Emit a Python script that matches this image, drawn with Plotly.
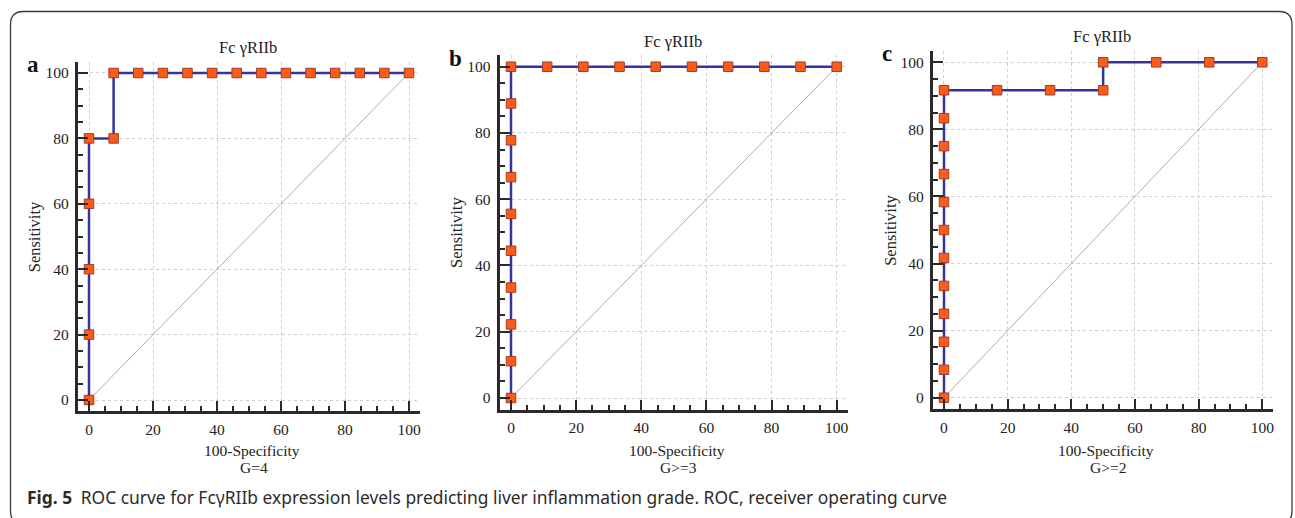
import plotly.graph_objects as go

# ---------------- data ----------------
panel_letters = ["a", "b", "c"]
panel_titles = ["Fc γRIIb", "Fc γRIIb", "Fc γRIIb"]
group_labels = ["G=4", "G>=3", "G>=2"]
x_title = "100-Specificity"
y_title = "Sensitivity"

a_fpr = [0, 0, 0, 0, 0, 7.69, 7.69, 15.38, 23.08, 30.77, 38.46, 46.15, 53.85,
         61.54, 69.23, 76.92, 84.62, 92.31, 100]
a_sens = [0, 20, 40, 60, 80, 80, 100, 100, 100, 100, 100, 100, 100,
          100, 100, 100, 100, 100, 100]

b_fpr = [0, 0, 0, 0, 0, 0, 0, 0, 0, 0, 11.11, 22.22, 33.33, 44.44, 55.56,
         66.67, 77.78, 88.89, 100]
b_sens = [0, 11.11, 22.22, 33.33, 44.44, 55.56, 66.67, 77.78, 88.89, 100,
          100, 100, 100, 100, 100, 100, 100, 100, 100]

c_fpr = [0, 0, 0, 0, 0, 0, 0, 0, 0, 0, 0, 0, 16.67, 33.33, 50, 50, 66.67,
         83.33, 100]
c_sens = [0, 8.33, 16.67, 25, 33.33, 41.67, 50, 58.33, 66.67, 75, 83.33,
          91.67, 91.67, 91.67, 91.67, 100, 100, 100, 100]

ref_line = [0, 100]

caption_bold = "Fig. 5"
caption_text = ("ROC curve for FcγRIIb expression levels predicting liver "
                "inflammation grade. ROC, receiver operating curve")

# ---------------- layout constants ----------------
W, H = 1295, 518
# pixel anchors of value 0 and 100 on each panel
anchors = [
    dict(x0=89, x100=409, y0=400, y100=73),
    dict(x0=511, x100=836.7, y0=398, y100=66.7),
    dict(x0=944, x100=1262.3, y0=397.7, y100=62.3),
]
PAD = 3.5
RNG = [-PAD, 100 + PAD]

LINE_COLOR = "#34349a"
MARKER_FILL = "#ff5b14"
MARKER_EDGE = "#9a3d32"
SERIF = "Liberation Serif, Times New Roman, serif"
TXT = "#222222"

def px(x):
    return x / W

def py(y):
    return 1 - y / H

fig = go.Figure()
series = [(a_fpr, a_sens), (b_fpr, b_sens), (c_fpr, c_sens)]
annotations = []
layout_axes = {}

for i, (anc, (fx, sy)) in enumerate(zip(anchors, series)):
    n = "" if i == 0 else str(i + 1)
    xa, ya = "x" + n, "y" + n
    sxp = (anc["x100"] - anc["x0"]) / 100
    syp = (anc["y0"] - anc["y100"]) / 100
    left = anc["x0"] - PAD * sxp
    right = anc["x100"] + PAD * sxp
    bottom = anc["y0"] + PAD * syp
    top = anc["y100"] - PAD * syp

    axis_common = dict(
        range=RNG, showline=True, linewidth=3, linecolor="#2a2a2a",
        ticks="inside", ticklen=10, tickwidth=2, tickcolor="#2a2a2a",
        tickmode="linear", tick0=0, dtick=20,
        showgrid=True, gridcolor="#cfcfcf",
        griddash="dot", gridwidth=1, zeroline=False, mirror=False,
        tickfont=dict(family=SERIF, size=15.5, color=TXT),
        minor=dict(ticks="inside", ticklen=5, tickwidth=1.5,
                   tickcolor="#2a2a2a", tick0=0, dtick=5, showgrid=False),
        fixedrange=True,
    )
    layout_axes["xaxis" + n] = dict(axis_common, domain=[px(left), px(right)],
                                    anchor=ya, ticklabelstandoff=2)
    layout_axes["yaxis" + n] = dict(axis_common, domain=[py(bottom), py(top)],
                                    anchor=xa, ticklabelstandoff=3)

    fig.add_trace(go.Scatter(x=ref_line, y=ref_line, mode="lines",
                             line=dict(color="#b3abab", width=1),
                             xaxis=xa, yaxis=ya, showlegend=False,
                             hoverinfo="skip"))
    fig.add_trace(go.Scatter(x=fx, y=sy, mode="lines+markers",
                             line=dict(color=LINE_COLOR, width=2.5),
                             marker=dict(symbol="square", size=9.5,
                                         color=MARKER_FILL,
                                         line=dict(color=MARKER_EDGE, width=1)),
                             xaxis=xa, yaxis=ya, showlegend=False))

    cx = (anc["x0"] + anc["x100"]) / 2
    # title
    annotations.append(dict(x=px(cx - 1), y=py(top - 14), xref="paper", yref="paper",
                            text=panel_titles[i], showarrow=False,
                            font=dict(family=SERIF, size=16.5, color=TXT),
                            xanchor="center", yanchor="middle"))
    # panel letter
    annotations.append(dict(x=px(left - 53), y=py(top + 3), xref="paper", yref="paper",
                            text="<b>%s</b>" % panel_letters[i], showarrow=False,
                            font=dict(family=SERIF, size=23, color="#111111"),
                            xanchor="left", yanchor="middle"))
    # y title
    annotations.append(dict(x=px(left - 43), y=py((anc["y0"] + anc["y100"]) / 2),
                            xref="paper", yref="paper", text=y_title,
                            showarrow=False, textangle=-90,
                            font=dict(family=SERIF, size=16.5, color=TXT),
                            xanchor="center", yanchor="middle"))
    # x title + group label
    annotations.append(dict(x=px(cx + 3), y=py(450), xref="paper", yref="paper",
                            text=x_title, showarrow=False, borderpad=0,
                            font=dict(family=SERIF, size=15.5, color=TXT),
                            xanchor="center", yanchor="middle"))
    annotations.append(dict(x=px(cx + 5), y=py(467), xref="paper", yref="paper",
                            text=group_labels[i], showarrow=False, borderpad=0,
                            font=dict(family=SERIF, size=15.5, color=TXT),
                            xanchor="center", yanchor="middle"))

annotations.append(dict(x=px(25), y=py(497), xref="paper", yref="paper",
                        text="<b>%s</b>\u2002%s" % (caption_bold, caption_text),
                        showarrow=False,
                        font=dict(family="Noto Sans, Open Sans, sans-serif",
                                  size=17.4, color="#2b2b2b"),
                        xanchor="left", yanchor="middle"))

# rounded frame
L, T, R, B, r = 10.5, 11.5, 1292, 524, 13
path = ("M {} {} L {} {} Q {} {} {} {} L {} {} Q {} {} {} {} L {} {} "
        "Q {} {} {} {} L {} {} Q {} {} {} {} Z").format(
    px(L + r), py(T), px(R - r), py(T), px(R), py(T), px(R), py(T + r),
    px(R), py(B - r), px(R), py(B), px(R - r), py(B),
    px(L + r), py(B), px(L), py(B), px(L), py(B - r),
    px(L), py(T + r), px(L), py(T), px(L + r), py(T))

fig.update_layout(
    width=W, height=H, margin=dict(l=0, r=0, t=0, b=0),
    paper_bgcolor="white", plot_bgcolor="white",
    annotations=annotations,
    shapes=[dict(type="path", path=path, xref="paper", yref="paper",
                 line=dict(color="#3a3a3a", width=1.3), layer="below")],
    **layout_axes,
)

fig.write_html("out.html", config={"displayModeBar": False})
